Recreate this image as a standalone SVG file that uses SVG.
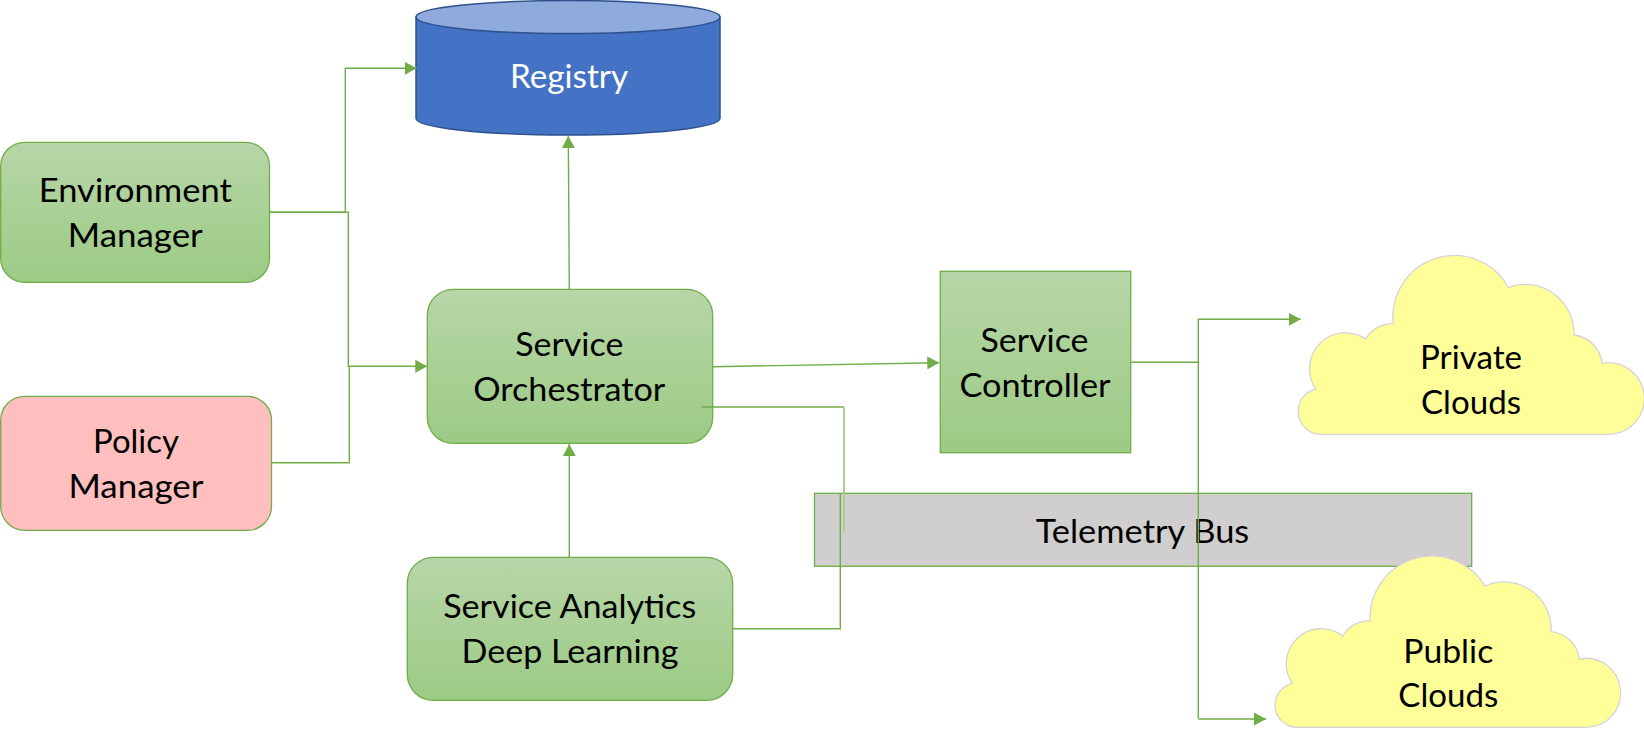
<svg xmlns="http://www.w3.org/2000/svg" width="1644" height="740" viewBox="0 0 1644 740">
<style>
text{font-family:"Lato","Liberation Sans",sans-serif;font-size:33px;fill:#000;text-anchor:middle}
.box{fill:url(#g);stroke:#70ad47;stroke-width:1.3}
.cloud{fill:#ffff99;stroke:#d4d4d4;stroke-width:1.3}
.c{fill:none;stroke:#70ad47;stroke-width:1.4}
.a{marker-end:url(#arrow)}
.soft{stroke:#a9d18e;stroke-width:2}
</style>
<defs>
<linearGradient id="g" x1="0" y1="0" x2="0" y2="1"><stop offset="0" stop-color="#b7d6a8"/><stop offset="1" stop-color="#9ccb84"/></linearGradient>
<marker id="arrow" markerUnits="userSpaceOnUse" markerWidth="12" markerHeight="13" refX="12" refY="6.5" orient="auto"><path d="M0,0L12,6.5L0,13Z" fill="#70ad47"/></marker>
</defs>
<g id="registry">
<path d="M416,17V118.5A152,16.5 0 0 0 720,118.5V17Z" fill="#4472c4" stroke="#2f528f" stroke-width="1.5"/>
<ellipse cx="568" cy="17" rx="152" ry="16.5" fill="#8faadc" stroke="#2f528f" stroke-width="1.5"/>
<text x="569" y="88.3" textLength="118" lengthAdjust="spacingAndGlyphs" style="fill:#fff">Registry</text>
</g>
<g id="environment-manager">
<rect class="box" x="0.7" y="142.3" width="268.8" height="140" rx="24"/>
<text x="135.3" y="201.5" textLength="193" lengthAdjust="spacingAndGlyphs">Environment</text>
<text x="135.3" y="246.8" textLength="135" lengthAdjust="spacingAndGlyphs">Manager</text>
</g>
<g id="policy-manager">
<rect x="0.7" y="396.3" width="270.8" height="134" rx="24" fill="#ffbfbf" stroke="#70ad47" stroke-width="1.3"/>
<text x="136" y="452.5" textLength="86" lengthAdjust="spacingAndGlyphs">Policy</text>
<text x="136" y="497.8" textLength="135" lengthAdjust="spacingAndGlyphs">Manager</text>
</g>
<g id="service-orchestrator">
<rect class="box" x="427.3" y="289.3" width="285.4" height="154" rx="26"/>
<text x="569.3" y="355.8" textLength="108" lengthAdjust="spacingAndGlyphs">Service</text>
<text x="569.3" y="400.8" textLength="192" lengthAdjust="spacingAndGlyphs">Orchestrator</text>
</g>
<g id="service-analytics">
<rect class="box" x="407.3" y="557.3" width="325.4" height="143" rx="26"/>
<text x="569.7" y="617.5" textLength="253" lengthAdjust="spacingAndGlyphs">Service Analytics</text>
<text x="570" y="663" textLength="217" lengthAdjust="spacingAndGlyphs">Deep Learning</text>
</g>
<g id="service-controller">
<rect class="box" x="940.3" y="271.3" width="190.4" height="181.4"/>
<text x="1034.5" y="351.8" textLength="108" lengthAdjust="spacingAndGlyphs">Service</text>
<text x="1035" y="396.8" textLength="151" lengthAdjust="spacingAndGlyphs">Controller</text>
</g>
<g id="telemetry-bus">
<rect x="814.5" y="493.3" width="657.2" height="73" fill="#d0cece" stroke="#70ad47" stroke-width="1.3"/>
<text x="1142.5" y="542.5" textLength="213.6" lengthAdjust="spacingAndGlyphs">Telemetry Bus</text>
</g>
<g id="private-clouds">
<path class="cloud" d="M1322,434.3A23,23 0 0 1 1315.7,389A36,36 0 0 1 1365.7,339A30,30 0 0 1 1393.3,324A61.5,61.5 0 0 1 1508.3,287.3A49,49 0 0 1 1574,335A32,32 0 0 1 1602,363.3A35.8,35.8 0 1 1 1609,434.3Z"/>
<text x="1471" y="369" textLength="102" lengthAdjust="spacingAndGlyphs">Private</text>
<text x="1471" y="413.8" textLength="100" lengthAdjust="spacingAndGlyphs">Clouds</text>
</g>
<g id="public-clouds">
<path class="cloud" d="M1296,727.3A22.3,22.3 0 0 1 1292.3,683.3A35,35 0 0 1 1342.7,636A30,30 0 0 1 1370,621A62,62 0 0 1 1485,586A47,47 0 0 1 1551,631.7A31,31 0 0 1 1579.3,659A34.5,34.5 0 1 1 1585,727.3Z"/>
<text x="1448.3" y="662.5" textLength="90" lengthAdjust="spacingAndGlyphs">Public</text>
<text x="1448.3" y="706.8" textLength="100" lengthAdjust="spacingAndGlyphs">Clouds</text>
</g>
<g id="connectors">
<path class="c a" d="M270,212.3H345.3V68.3H416.7"/>
<path class="c a" d="M270,212.3H348.3V366.3H427.3"/>
<path class="c" d="M272,462.7H349.3V366.3"/>
<path class="c a" d="M569.3,289.3L568.3,136"/>
<path class="c a" d="M569.3,557.3V444"/>
<path class="c a" d="M713,366.7L939.3,362.7"/>
<path class="c" d="M702,407H844"/>
<path class="c soft" d="M844,407V531"/>
<path class="c" d="M732.7,628.7H840.3V493.3"/>
<path class="c" d="M1130.7,362.3H1198.3"/>
<path class="c a" d="M1198.3,719V319.3H1300.7"/>
<path class="c a" d="M1198.3,719H1266"/>
</g>
</svg>
